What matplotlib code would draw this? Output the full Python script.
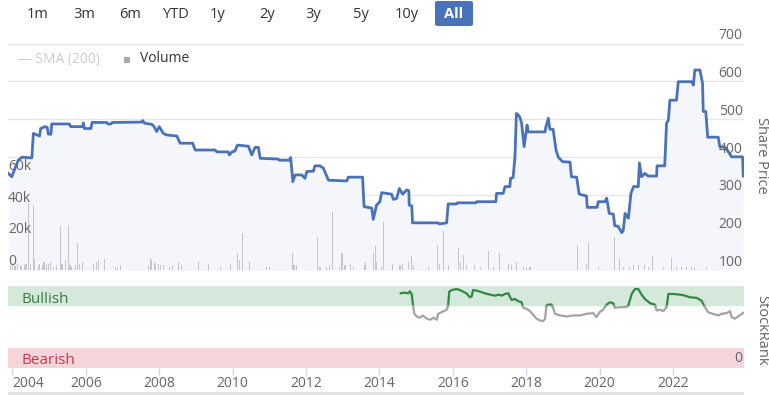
import matplotlib
matplotlib.use("Agg")
import matplotlib.pyplot as plt
from matplotlib.patches import FancyBboxPatch, Rectangle
import numpy as np

plt.rcParams['font.family'] = ['Open Sans', 'DejaVu Sans']

# share price (decimal year, price)
price_dates = [2003.89, 2003.98, 2004.16, 2004.26, 2004.53, 2004.57, 2004.74, 2004.77, 2004.89, 2004.95,
               2004.98, 2005.05, 2005.07, 2005.55, 2005.59, 2005.92, 2005.93, 2005.96, 2006.14, 2006.17,
               2006.57, 2006.60, 2006.69, 2006.72, 2007.52, 2007.55, 2007.60, 2007.80, 2007.86, 2007.93,
               2008.00, 2008.11, 2008.20, 2008.48, 2008.57, 2008.91, 2008.98, 2009.52, 2009.57, 2009.88,
               2009.91, 2009.98, 2010.06, 2010.13, 2010.43, 2010.52, 2010.61, 2010.70, 2010.75, 2011.24,
               2011.27, 2011.54, 2011.58, 2011.64, 2011.70, 2011.88, 2011.97, 2012.02, 2012.20, 2012.24,
               2012.38, 2012.47, 2012.61, 2013.11, 2013.15, 2013.54, 2013.58, 2013.79, 2013.83, 2013.92,
               2014.01, 2014.06, 2014.33, 2014.38, 2014.47, 2014.54, 2014.63, 2014.74, 2014.80, 2014.81,
               2014.88, 2014.90, 2015.60, 2015.63, 2015.83, 2015.87, 2016.10, 2016.12, 2016.63, 2016.65,
               2017.17, 2017.19, 2017.37, 2017.42, 2017.55, 2017.57, 2017.64, 2017.69, 2017.73, 2017.82,
               2017.87, 2017.94, 2018.02, 2018.05, 2018.51, 2018.53, 2018.60, 2018.64, 2018.73, 2018.81,
               2018.87, 2018.99, 2019.19, 2019.23, 2019.37, 2019.44, 2019.64, 2019.66, 2019.93, 2019.96,
               2020.14, 2020.19, 2020.26, 2020.37, 2020.41, 2020.50, 2020.60, 2020.64, 2020.69, 2020.78,
               2020.85, 2020.92, 2021.05, 2021.08, 2021.14, 2021.23, 2021.32, 2021.55, 2021.56, 2021.77,
               2021.82, 2021.87, 2021.91, 2022.09, 2022.14, 2022.50, 2022.55, 2022.59, 2022.73, 2022.80,
               2022.82, 2022.89, 2022.94, 2023.23, 2023.27, 2023.41, 2023.46, 2023.59, 2023.89, 2023.91]
price_values = [356, 347, 391, 399, 397, 462, 455, 475, 480, 478,
                460, 460, 487, 487, 480, 480, 490, 475, 475, 491,
                491, 487, 487, 491, 492, 496, 489, 486, 480, 467,
                480, 462, 458, 455, 436, 436, 418, 418, 413, 413,
                405, 413, 415, 431, 428, 405, 425, 425, 396, 394,
                391, 391, 398, 334, 352, 352, 343, 361, 362, 376,
                376, 370, 338, 336, 346, 346, 268, 264, 234, 272,
                281, 305, 301, 287, 290, 316, 301, 312, 310, 272,
                270, 225, 225, 222, 225, 275, 275, 278, 278, 281,
                281, 303, 303, 321, 321, 343, 345, 400, 515, 506,
                490, 427, 484, 466, 466, 478, 502, 473, 473, 418,
                399, 387, 386, 347, 346, 301, 296, 266, 266, 281,
                281, 290, 250, 248, 217, 216, 199, 205, 250, 237,
                303, 321, 321, 384, 347, 356, 349, 349, 376, 376,
                489, 497, 550, 550, 599, 599, 590, 630, 630, 595,
                520, 520, 452, 452, 427, 425, 420, 400, 400, 349]

# volume (decimal year, shares)
vol_dates = [2003.94, 2004.01, 2004.07, 2004.14, 2004.21, 2004.26, 2004.32, 2004.37, 2004.45, 2004.50,
             2004.57, 2004.60, 2004.71, 2004.75, 2004.81, 2004.86, 2004.92, 2004.98, 2005.03, 2005.12,
             2005.21, 2005.30, 2005.35, 2005.44, 2005.53, 2005.57, 2005.62, 2005.71, 2005.77, 2005.84,
             2005.92, 2006.21, 2006.28, 2006.35, 2006.52, 2006.80, 2006.86, 2006.95, 2007.70, 2007.75,
             2007.80, 2007.86, 2007.91, 2007.98, 2008.04, 2008.11, 2008.28, 2008.37, 2008.52, 2008.61,
             2009.07, 2009.34, 2009.68, 2009.93, 2010.13, 2010.18, 2010.26, 2010.47, 2010.91, 2011.00,
             2011.62, 2011.67, 2011.75, 2012.31, 2012.38, 2012.56, 2012.63, 2012.73, 2012.92, 2012.98,
             2013.06, 2013.20, 2013.29, 2013.58, 2013.63, 2013.83, 2013.88, 2013.92, 2014.06, 2014.11,
             2014.35, 2014.56, 2014.63, 2014.78, 2014.86, 2014.92, 2015.33, 2015.57, 2015.63, 2015.74,
             2015.87, 2016.15, 2016.21, 2016.30, 2016.37, 2016.60, 2016.74, 2016.96, 2017.10, 2017.26,
             2017.51, 2017.60, 2017.74, 2017.92, 2018.01, 2018.10, 2019.39, 2019.64, 2019.69, 2019.96,
             2020.41, 2020.55, 2020.64, 2020.82, 2020.91, 2021.05, 2021.23, 2021.32, 2021.44, 2021.73,
             2021.96, 2022.09, 2022.23, 2022.37, 2022.50, 2022.59, 2022.91]
vol_values = [3000, 3000, 2500, 3500, 3000, 2500, 3000, 3500, 42000, 4000,
              41000, 7000, 3000, 4000, 3000, 5000, 4000, 4000, 5000, 2000,
              3000, 27700, 4000, 6000, 28500, 3000, 2000, 3000, 16800, 4000,
              5000, 4000, 5000, 6000, 7000, 2000, 2000, 3000, 3000, 7700,
              6000, 5000, 4000, 4000, 3000, 3000, 2000, 3000, 5000, 3000,
              5000, 4000, 2000, 4000, 10500, 6000, 23500, 5000, 2000, 2000,
              11000, 3000, 3000, 20600, 2000, 2000, 3000, 36700, 2000, 11000,
              3000, 4000, 2000, 3000, 5000, 11000, 15000, 5000, 2000, 30000,
              4000, 3000, 4000, 5000, 9000, 3000, 2000, 15700, 4000, 24500,
              3000, 14000, 5000, 9400, 3000, 3000, 2000, 12000, 2000, 10500,
              4000, 3000, 5000, 2000, 2000, 2000, 15700, 4000, 16800, 2000,
              20600, 7000, 2000, 2000, 3000, 3000, 3000, 2000, 8800, 2000,
              7700, 2000, 2000, 2000, 2000, 2000, 2000]

# StockRank (decimal year, rank 0-100)
rank_dates = [2014.58, 2014.69, 2014.78, 2014.83, 2014.88, 2014.92, 2014.95, 2015.01, 2015.10, 2015.18,
              2015.29, 2015.38, 2015.47, 2015.56, 2015.60, 2015.69, 2015.83, 2015.87, 2015.90, 2015.97,
              2016.10, 2016.19, 2016.28, 2016.37, 2016.42, 2016.46, 2016.51, 2016.55, 2016.65, 2016.74,
              2016.87, 2017.01, 2017.15, 2017.24, 2017.33, 2017.42, 2017.51, 2017.55, 2017.60, 2017.69,
              2017.78, 2017.87, 2017.92, 2018.01, 2018.10, 2018.19, 2018.28, 2018.37, 2018.46, 2018.51,
              2018.55, 2018.60, 2018.69, 2018.73, 2018.78, 2018.92, 2019.10, 2019.28, 2019.46, 2019.64,
              2019.82, 2019.91, 2020.00, 2020.09, 2020.19, 2020.28, 2020.37, 2020.41, 2020.55, 2020.69,
              2020.78, 2020.87, 2020.96, 2021.05, 2021.14, 2021.23, 2021.37, 2021.50, 2021.55, 2021.64,
              2021.73, 2021.82, 2021.87, 2022.00, 2022.18, 2022.32, 2022.45, 2022.64, 2022.77, 2022.86,
              2022.95, 2023.08, 2023.23, 2023.32, 2023.46, 2023.55, 2023.59, 2023.68, 2023.77, 2023.91]
rank_values = [91.1, 91.9, 91.1, 93.5, 89.5, 74.2, 66.1, 62.9, 61.3, 64.1,
               60.1, 58.9, 61.3, 58.9, 66.1, 68.1, 71.0, 76.2, 93.1, 95.1,
               96.3, 95.1, 93.1, 91.1, 88.3, 86.3, 87.1, 95.1, 94.3, 93.1,
               91.1, 89.5, 88.3, 89.5, 88.3, 90.3, 91.1, 87.1, 83.0, 84.2,
               81.4, 80.2, 73.4, 72.2, 69.4, 64.6, 60.1, 58.0, 57.2, 60.1,
               76.2, 77.4, 77.4, 73.4, 66.1, 64.1, 62.9, 64.1, 64.1, 66.1,
               66.9, 62.1, 68.1, 71.0, 77.4, 80.2, 79.0, 73.4, 74.2, 74.2,
               76.2, 90.3, 96.3, 96.3, 89.5, 84.2, 79.0, 77.4, 70.2, 71.0,
               69.4, 74.2, 90.3, 90.3, 89.5, 88.3, 86.3, 85.5, 82.2, 75.0,
               68.1, 66.1, 64.1, 66.1, 66.9, 69.4, 62.1, 60.1, 62.9, 67.3]

years = [2004, 2006, 2008, 2010, 2012, 2014, 2016, 2018, 2020, 2022]
buttons = ['1m', '3m', '6m', 'YTD', '1y', '2y', '3y', '5y', '10y', 'All']

W, H = 769, 395
x0, x1 = 2003.88, 2023.93
grey = '#666666'
blue = '#4a72b8'

fig = plt.figure(figsize=(W / 100, H / 100), dpi=100)


def box(l, t, r, b):
    return [l / W, 1 - b / H, (r - l) / W, (b - t) / H]


def bare(a):
    a.set_facecolor('none')
    for s in a.spines.values():
        s.set_visible(False)
    a.set_xticks([])
    a.set_yticks([])


# ---- price / volume panel: grid + area fill, then volume bars, then price line
ax = fig.add_axes(box(8, 43.6, 744, 270))
ax.set_xlim(x0, x1)
ax.set_ylim(100, 700)
bare(ax)
for v in range(100, 701, 100):
    ax.axhline(v, color='#e6e6e6' if v != 100 else '#d8d8d8', lw=1, zorder=0)
ax.fill_between(price_dates, price_values, 100, color='#f4f6fb', lw=0, zorder=1)

axv = ax.twinx()
axv.set_xlim(x0, x1)
axv.set_ylim(0, 142400)
bare(axv)
axv.bar(vol_dates, vol_values, width=0.03, color='#c4c6cc', lw=0)
for v, lab in zip([0, 20000, 40000, 60000], ['0', '20k', '40k', '60k']):
    axv.annotate(lab, (0, v), xycoords=('axes fraction', 'data'), xytext=(0, 6),
                 textcoords='offset points', ha='left', va='center', fontsize=10, color=grey)

axp = ax.twinx()
axp.set_xlim(x0, x1)
axp.set_ylim(100, 700)
bare(axp)
axp.plot(price_dates, price_values, color=blue, lw=2.0, solid_joinstyle='round')
for v in range(100, 701, 100):
    axp.annotate(str(v), (1, v), xycoords=('axes fraction', 'data'), xytext=(-1, 5.5),
                 textcoords='offset points', ha='right', va='center', fontsize=10, color=grey)

ax.set_zorder(1)
axv.set_zorder(2)
axp.set_zorder(3)

fig.text(762 / W, 1 - 155 / H, 'Share Price', rotation=270, ha='center', va='center',
         fontsize=10.5, color=grey)

# ---- StockRank panel
ar = fig.add_axes(box(8, 286, 744, 368))
ar.set_xlim(x0, x1)
ar.set_ylim(0, 100)
for s in ar.spines.values():
    s.set_visible(False)
ar.axhspan(75.5, 100, color='#d4e8dc', lw=0, zorder=0)
ar.axhspan(0, 24.5, color='#f5d5da', lw=0, zorder=0)
ar.axhline(100, color='#e6e6e6', lw=1, zorder=1)

# split rank line into bullish (green) and other (grey) pieces
thr = 75.5
rx, ry = [rank_dates[0]], [rank_values[0]]
for i in range(1, len(rank_dates)):
    a, b = rank_values[i - 1], rank_values[i]
    if (a - thr) * (b - thr) < 0:
        t = (thr - a) / (b - a)
        rx.append(rank_dates[i - 1] + t * (rank_dates[i] - rank_dates[i - 1]))
        ry.append(thr)
    rx.append(rank_dates[i])
    ry.append(b)
rx = np.array(rx)
ry = np.array(ry)
ar.plot(rx, np.where(ry >= thr - 0.01, ry, np.nan), color='#2e8b3e', lw=1.6, zorder=3)
ar.plot(rx, np.where(ry <= thr + 0.01, ry, np.nan), color='#a3a3a3', lw=1.6, zorder=3)

ar.text(0.018, 83, 'Bullish', transform=ar.get_yaxis_transform(), fontsize=11,
        color='#3c7d44', va='center')
ar.text(0.018, 9, 'Bearish', transform=ar.get_yaxis_transform(), fontsize=11,
        color='#c8374e', va='center')
ar.text(0.997, 11, '0', transform=ar.get_yaxis_transform(), fontsize=10,
        color=grey, va='center', ha='right')
fig.text(762 / W, 1 - 330 / H, 'StockRank', rotation=270, ha='center', va='center',
         fontsize=10.5, color=grey)

ar.set_yticks([])
ar.set_xticks(years)
ar.set_xticklabels([str(y) for y in years], fontsize=10, color=grey)
ar.tick_params(axis='x', length=5, width=1, color='#ccd6eb', pad=1)
ar.get_xticklabels()[0].set_horizontalalignment('left')

# ---- range selector buttons
btn_x = [38, 84, 130, 176, 218, 267, 313, 361, 407, 454]
for bx, lab in zip(btn_x, buttons):
    if lab == 'All':
        fig.patches.append(FancyBboxPatch((435 / W, 1 - 26 / H), 38 / W, 25 / H,
                                          boxstyle='round,pad=0,rounding_size=0.004',
                                          transform=fig.transFigure, color=blue, lw=0))
        fig.text(bx / W, 1 - 14 / H, lab, ha='center', va='center', fontsize=10.5,
                 color='white', fontweight='bold')
    else:
        fig.text(bx / W, 1 - 14 / H, lab, ha='center', va='center', fontsize=10.5, color='#333333')

# legend
fig.text(18 / W, 1 - 59 / H, '\u2014 SMA (200)', ha='left', va='center', fontsize=10, color='#cccccc')
fig.patches.append(Rectangle((124 / W, 1 - 63 / H), 6 / W, 6 / H, transform=fig.transFigure,
                             color='#aaaaaa', lw=0))
fig.text(140 / W, 1 - 59 / H, 'Volume', ha='left', va='center', fontsize=10, color='#333333')

# scrollbar strip at the bottom
fig.patches.append(Rectangle((8 / W, 0), 736 / W, 3 / H, transform=fig.transFigure,
                             color='#e2e2e2', lw=0))

fig.savefig('out.png', dpi=100)
